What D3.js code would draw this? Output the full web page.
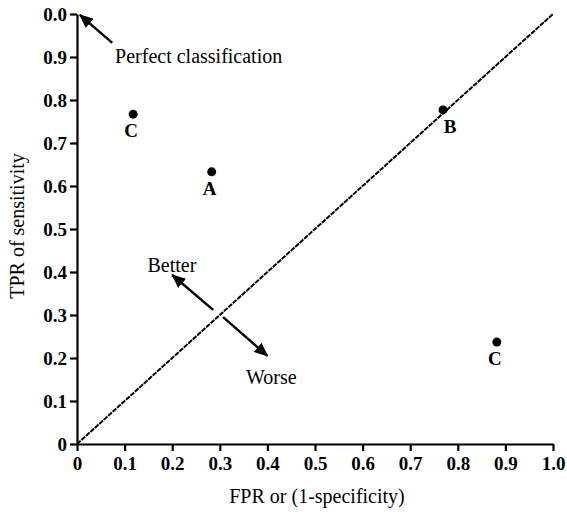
<!DOCTYPE html>
<html>
<head>
<meta charset="utf-8">
<script src="https://cdn.jsdelivr.net/npm/d3@7"></script>
<style>
  body { margin: 0; background: #fff; }
  svg text { fill: #000; }
</style>
</head>
<body>
<div id="roc"></div>
<script>
// values
const ticks = [0, 0.1, 0.2, 0.3, 0.4, 0.5, 0.6, 0.7, 0.8, 0.9, 1.0];
const xTickLabels = ['0', '0.1', '0.2', '0.3', '0.4', '0.5', '0.6', '0.7', '0.8', '0.9', '1.0'];
const yTickLabels = ['0', '0.1', '0.2', '0.3', '0.4', '0.5', '0.6', '0.7', '0.8', '0.9', '0.0'];

const pointNames = ['C', 'A', 'B', 'C'];
const pointFpr = [0.118, 0.283, 0.769, 0.882];
const pointTpr = [0.767, 0.633, 0.777, 0.237];

// arrows: [fpr, tpr]
const arrowFrom = [[0.074, 0.933], [0.286, 0.312], [0.307, 0.295]];
const arrowTo = [[0.006, 0.998], [0.200, 0.393], [0.400, 0.205]];

const notes = ['Perfect classification', 'Better', 'Worse'];
const notePos = [[0.08, 0.885], [0.148, 0.40], [0.355, 0.14]];

const FONT = '"Liberation Serif", "Times New Roman", Times, "DejaVu Serif", serif';

const width = 567, height = 512;
const margin = { top: 14, right: 14, bottom: 68, left: 77 };

const x = d3.scaleLinear().domain([0, 1]).range([margin.left, width - margin.right]);
const y = d3.scaleLinear().domain([0, 1]).range([height - margin.bottom, margin.top]);

const svg = d3.select('#roc')
  .append('svg')
  .attr('width', width)
  .attr('height', height)
  .attr('font-family', FONT);

svg.append('defs').append('marker')
  .attr('id', 'head')
  .attr('markerUnits', 'userSpaceOnUse')
  .attr('viewBox', '0 0 14 12')
  .attr('refX', 13)
  .attr('refY', 6)
  .attr('markerWidth', 14)
  .attr('markerHeight', 12)
  .attr('orient', 'auto')
  .append('path')
  .attr('d', 'M0,0L14,6L0,12Z')
  .attr('fill', '#000');

// diagonal chance line
svg.append('line')
  .attr('x1', x(0)).attr('y1', y(0))
  .attr('x2', x(1)).attr('y2', y(1))
  .attr('stroke', '#000')
  .attr('stroke-width', 2)
  .attr('stroke-dasharray', '5,1');

const xAxis = svg.append('g')
  .attr('transform', `translate(0,${y(0)})`)
  .call(d3.axisBottom(x).tickValues(ticks).tickFormat((d, i) => xTickLabels[i]).tickSize(7).tickSizeOuter(0).tickPadding(6));

const yAxis = svg.append('g')
  .attr('transform', `translate(${x(0)},0)`)
  .call(d3.axisLeft(y).tickValues(ticks).tickFormat((d, i) => yTickLabels[i]).tickSize(7).tickSizeOuter(0).tickPadding(3));

[xAxis, yAxis].forEach(g => {
  g.attr('font-family', FONT).attr('font-size', 19);
  g.select('.domain').attr('stroke-width', 2.2);
  g.selectAll('.tick line').attr('stroke-width', 2.2);
  g.selectAll('.tick text').attr('font-weight', 'bold');
});

// points
svg.append('g')
  .selectAll('circle')
  .data(pointNames)
  .enter().append('circle')
  .attr('cx', (d, i) => x(pointFpr[i]))
  .attr('cy', (d, i) => y(pointTpr[i]))
  .attr('r', 4.5)
  .attr('fill', '#000');

svg.append('g')
  .selectAll('text')
  .data(pointNames)
  .enter().append('text')
  .attr('x', (d, i) => x(pointFpr[i]) + (d === 'B' ? 7 : -2))
  .attr('y', (d, i) => y(pointTpr[i]) + 23)
  .attr('text-anchor', 'middle')
  .attr('font-size', 19)
  .attr('font-weight', 'bold')
  .text(d => d);

// arrows
svg.append('g')
  .selectAll('line')
  .data(arrowFrom)
  .enter().append('line')
  .attr('x1', d => x(d[0]))
  .attr('y1', d => y(d[1]))
  .attr('x2', (d, i) => x(arrowTo[i][0]))
  .attr('y2', (d, i) => y(arrowTo[i][1]))
  .attr('stroke', '#000')
  .attr('stroke-width', 2.4)
  .attr('marker-end', 'url(#head)');

svg.append('g')
  .selectAll('text')
  .data(notes)
  .enter().append('text')
  .attr('x', (d, i) => x(notePos[i][0]))
  .attr('y', (d, i) => y(notePos[i][1]))
  .attr('font-size', 20)
  .text(d => d);

// axis titles
svg.append('text')
  .attr('x', (x(0) + x(1)) / 2 + 2)
  .attr('y', 503)
  .attr('text-anchor', 'middle')
  .attr('font-size', 20)
  .text('FPR or (1-specificity)');

svg.append('text')
  .attr('transform', 'translate(24,226) rotate(-90)')
  .attr('text-anchor', 'middle')
  .attr('font-size', 20)
  .text('TPR of sensitivity');
</script>
</body>
</html>
